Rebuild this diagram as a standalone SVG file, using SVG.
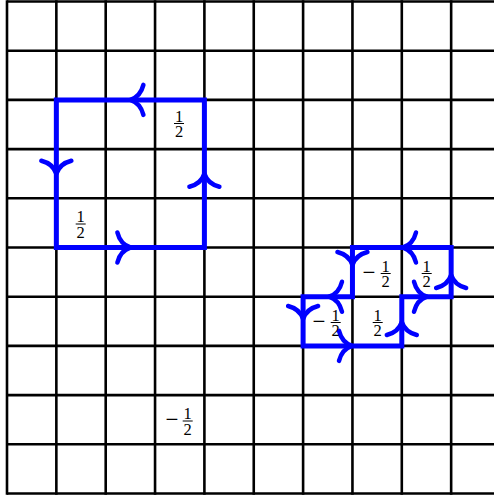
<svg xmlns="http://www.w3.org/2000/svg" xmlns:xlink="http://www.w3.org/1999/xlink" width="494" height="498" viewBox="0 0 494 498">
<defs>
<style>
.grid line{stroke:#000;stroke-width:2.6}
.loop{fill:none;stroke:#0000ff;stroke-width:5;stroke-linejoin:miter;stroke-linecap:square}
.ah{fill:none;stroke:#0000ff;stroke-width:4.5;stroke-linecap:round;stroke-linejoin:round}
.num{font-family:"Liberation Serif","Times New Roman",serif;font-size:16.5px;fill:#000;text-anchor:middle}
.minus{font-size:23px}
.bar{stroke:#000;stroke-width:1}
</style>
<path id="ah" d="M-13,-15 C-11,-7 -6,-2 0,0 C-6,2 -11,7 -13,15"/>
</defs>
<rect width="494" height="498" fill="#fff"/>
<g id="grid" class="grid">
<line x1="7" y1="1.5" x2="494" y2="1.5"/>
<line x1="7" y1="50.7" x2="494" y2="50.7"/>
<line x1="7" y1="99.9" x2="494" y2="99.9"/>
<line x1="7" y1="149.1" x2="494" y2="149.1"/>
<line x1="7" y1="198.3" x2="494" y2="198.3"/>
<line x1="7" y1="247.5" x2="494" y2="247.5"/>
<line x1="7" y1="296.7" x2="494" y2="296.7"/>
<line x1="7" y1="345.9" x2="494" y2="345.9"/>
<line x1="7" y1="395.1" x2="494" y2="395.1"/>
<line x1="7" y1="444.3" x2="494" y2="444.3"/>
<line x1="7" y1="493.5" x2="494" y2="493.5"/>
<line x1="7" y1="0.2" x2="7" y2="494.8"/>
<line x1="56.35" y1="0.2" x2="56.35" y2="494.8"/>
<line x1="105.7" y1="0.2" x2="105.7" y2="494.8"/>
<line x1="155.05" y1="0.2" x2="155.05" y2="494.8"/>
<line x1="204.4" y1="0.2" x2="204.4" y2="494.8"/>
<line x1="253.75" y1="0.2" x2="253.75" y2="494.8"/>
<line x1="303.1" y1="0.2" x2="303.1" y2="494.8"/>
<line x1="352.45" y1="0.2" x2="352.45" y2="494.8"/>
<line x1="401.8" y1="0.2" x2="401.8" y2="494.8"/>
<line x1="451.15" y1="0.2" x2="451.15" y2="494.8"/>
</g>
<g id="connectors">
<g id="loop-large">
<path class="loop" d="M56.35,99.9 H204.4 V247.5 H56.35 Z"/>
<use xlink:href="#ah" class="ah" transform="translate(130.4,99.9) rotate(180)"/>
<use xlink:href="#ah" class="ah" transform="translate(56.35,173.7) rotate(90)"/>
<use xlink:href="#ah" class="ah" transform="translate(130.4,247.5)"/>
<use xlink:href="#ah" class="ah" transform="translate(204.4,173.7) rotate(-90)"/>
</g>
<g id="loop-small">
<path class="loop" d="M352.45,247.5 H451.15 V296.7 H401.8 V345.9 H303.1 V296.7 H352.45 Z"/>
<use xlink:href="#ah" class="ah" transform="translate(403,247.5) rotate(180)"/>
<use xlink:href="#ah" class="ah" transform="translate(352.45,265) rotate(90)"/>
<use xlink:href="#ah" class="ah" transform="translate(329,296.7) rotate(180)"/>
<use xlink:href="#ah" class="ah" transform="translate(303.1,319) rotate(90)"/>
<use xlink:href="#ah" class="ah" transform="translate(352,345.9)"/>
<use xlink:href="#ah" class="ah" transform="translate(401.8,322) rotate(-90)"/>
<use xlink:href="#ah" class="ah" transform="translate(427,296.7)"/>
<use xlink:href="#ah" class="ah" transform="translate(451.15,275) rotate(-90)"/>
</g>
</g>
<g id="labels">
<g id="label-1">
<text class="num"><tspan x="179" y="121.5">1</tspan><tspan x="179" y="137">2</tspan></text><line class="bar" x1="174" y1="123.5" x2="184" y2="123.5"/>
</g>
<g id="label-2">
<text class="num"><tspan x="80.7" y="222">1</tspan><tspan x="80.7" y="237.5">2</tspan></text><line class="bar" x1="75.7" y1="224" x2="85.7" y2="224"/>
</g>
<g id="label-3">
<text class="num"><tspan class="minus" x="172" y="427">−</tspan><tspan x="187.7" y="419">1</tspan><tspan x="187.7" y="434.5">2</tspan></text><line class="bar" x1="182.7" y1="421" x2="192.7" y2="421"/>
</g>
<g id="label-4">
<text class="num"><tspan class="minus" x="369" y="279.5">−</tspan><tspan x="385.7" y="271.5">1</tspan><tspan x="385.7" y="287">2</tspan></text><line class="bar" x1="380.7" y1="273.5" x2="390.7" y2="273.5"/>
</g>
<g id="label-5">
<text class="num"><tspan x="426.7" y="271.5">1</tspan><tspan x="426.7" y="287">2</tspan></text><line class="bar" x1="421.7" y1="273.5" x2="431.7" y2="273.5"/>
</g>
<g id="label-6">
<text class="num"><tspan class="minus" x="319" y="328.5">−</tspan><tspan x="335.7" y="320.5">1</tspan><tspan x="335.7" y="336">2</tspan></text><line class="bar" x1="330.7" y1="322.5" x2="340.7" y2="322.5"/>
</g>
<g id="label-7">
<text class="num"><tspan x="377.7" y="320.5">1</tspan><tspan x="377.7" y="336">2</tspan></text><line class="bar" x1="372.7" y1="322.5" x2="382.7" y2="322.5"/>
</g>
</g>
</svg>
